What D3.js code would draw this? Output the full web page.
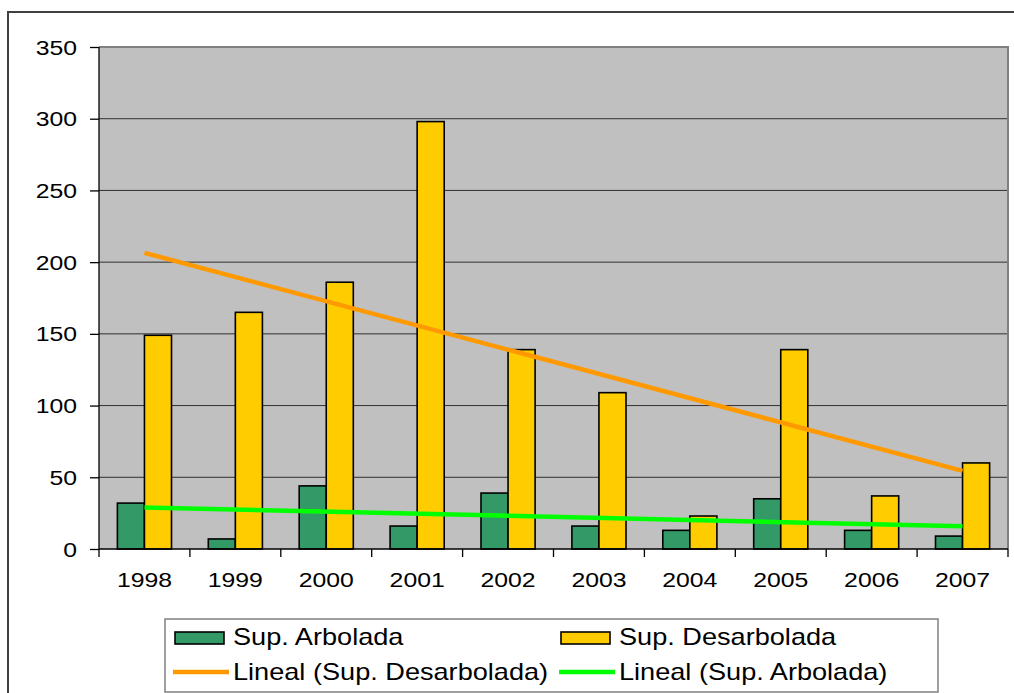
<!DOCTYPE html>
<html>
<head>
<meta charset="utf-8">
<script src="https://cdn.jsdelivr.net/npm/d3@7"></script>
<style>
	body { margin: 0; background: #ffffff; }
	svg { display: block; font-family: 'Liberation Sans', Arial, sans-serif; }
</style>
</head>
<body>
<div id="chart"></div>
<script>
var years = [ '1998', '1999', '2000', '2001', '2002', '2003', '2004', '2005', '2006', '2007' ];
var arbolada = [ 32, 7, 44, 16, 39, 16, 13, 35, 13, 9 ];
var desarbolada = [ 149, 165, 186, 298, 139, 109, 23, 139, 37, 60 ];
var yTicks = [ 0, 50, 100, 150, 200, 250, 300, 350 ];
var seriesNames = [ 'Sup. Arbolada', 'Sup. Desarbolada' ];
var trendNames = [ 'Lineal (Sup. Desarbolada)', 'Lineal (Sup. Arbolada)' ];

var colors = {
	arbolada: '#339966',
	desarbolada: '#ffcc00',
	trendDes: '#ff9900',
	trendArb: '#00ff00',
	plot: '#c0c0c0'
};

var sizes = { width: 1014, height: 693 };
var plot = { left: 99, right: 1008, top: 47, bottom: 549 };
var stretch = 1.18; // the text in the picture is drawn wider than normal

var svg = d3.select( '#chart' ).append( 'svg' )
	.attr( 'width', sizes.width )
	.attr( 'height', sizes.height );

// outer chart frame
svg.append( 'rect' )
	.attr( 'x', 8 ).attr( 'y', 12 )
	.attr( 'width', 1020 ).attr( 'height', 700 )
	.style( 'fill', '#ffffff' )
	.style( 'stroke', '#404040' )
	.style( 'stroke-width', 2 );

var scales = {};

scales.x = d3.scaleBand()
	.domain( years )
	.range( [ plot.left, plot.right ] );

scales.inner = d3.scaleBand()
	.domain( [ 'arb', 'des' ] )
	.range( [ 0, scales.x.bandwidth() ] )
	.paddingOuter( 0.68 );

scales.y = d3.scaleLinear()
	.domain( [ 0, 350 ] )
	.range( [ plot.bottom, plot.top ] );

// plot area
svg.append( 'rect' )
	.attr( 'x', plot.left ).attr( 'y', plot.top )
	.attr( 'width', plot.right - plot.left )
	.attr( 'height', plot.bottom - plot.top )
	.style( 'fill', colors.plot );

svg.append( 'g' )
	.selectAll( 'line' )
	.data( yTicks.filter( function ( d ) { return d > 0 && d < 350; } ) )
	.enter()
	.append( 'line' )
	.attr( 'x1', plot.left ).attr( 'x2', plot.right )
	.attr( 'y1', function ( d ) { return scales.y( d ); } )
	.attr( 'y2', function ( d ) { return scales.y( d ); } )
	.style( 'stroke', '#303030' )
	.style( 'stroke-width', 1 );

// plot area border (top and right grey)
svg.append( 'path' )
	.attr( 'd', 'M' + plot.left + ',' + scales.y( 350 ) + 'H' + plot.right + 'V' + plot.bottom )
	.style( 'fill', 'none' )
	.style( 'stroke', '#808080' )
	.style( 'stroke-width', 2 );

// bars
var barGroups = svg.append( 'g' )
	.selectAll( 'g' )
	.data( years )
	.enter()
	.append( 'g' )
	.attr( 'transform', function ( d ) { return 'translate(' + scales.x( d ) + ',0)'; } );

barGroups.append( 'rect' )
	.attr( 'x', scales.inner( 'arb' ) )
	.attr( 'width', scales.inner.bandwidth() )
	.attr( 'y', function ( d, i ) { return scales.y( arbolada[ i ] ); } )
	.attr( 'height', function ( d, i ) { return scales.y( 0 ) - scales.y( arbolada[ i ] ); } )
	.style( 'fill', colors.arbolada )
	.style( 'stroke', '#000000' )
	.style( 'stroke-width', 1.6 );

barGroups.append( 'rect' )
	.attr( 'x', scales.inner( 'des' ) )
	.attr( 'width', scales.inner.bandwidth() )
	.attr( 'y', function ( d, i ) { return scales.y( desarbolada[ i ] ); } )
	.attr( 'height', function ( d, i ) { return scales.y( 0 ) - scales.y( desarbolada[ i ] ); } )
	.style( 'fill', colors.desarbolada )
	.style( 'stroke', '#000000' )
	.style( 'stroke-width', 1.6 );

// linear trend lines (least squares, like the spreadsheet does)
var trend = function ( values ) {
	var xs = values.map( function ( d, i ) { return i; } );
	var mx = d3.mean( xs ), my = d3.mean( values );
	var sxy = d3.sum( xs, function ( x, i ) { return ( x - mx ) * ( values[ i ] - my ); } );
	var sxx = d3.sum( xs, function ( x ) { return ( x - mx ) * ( x - mx ); } );
	var slope = sxy / sxx;
	return function ( x ) { return my + slope * ( x - mx ); };
};

var center = function ( i ) { return scales.x( years[ i ] ) + scales.x.bandwidth() / 2; };
var last = years.length - 1;

[ [ desarbolada, colors.trendDes ], [ arbolada, colors.trendArb ] ].forEach( function ( t ) {
	var f = trend( t[ 0 ] );
	svg.append( 'line' )
		.attr( 'x1', center( 0 ) )
		.attr( 'x2', center( last ) )
		.attr( 'y1', scales.y( f( 0 ) ) )
		.attr( 'y2', scales.y( f( last ) ) )
		.style( 'stroke', t[ 1 ] )
		.style( 'stroke-width', 4.5 );
} );

// axes
var axes = {};
axes.y = d3.axisLeft( scales.y ).tickValues( yTicks ).tickSize( 9 ).tickFormat( '' );
axes.x = d3.axisBottom( scales.x ).tickSize( 0 ).tickFormat( '' );

svg.append( 'g' )
	.attr( 'transform', 'translate(' + plot.left + ',0)' )
	.call( axes.y )
	.call( function ( g ) {
		g.selectAll( 'line, path' ).style( 'stroke', '#000000' ).style( 'stroke-width', 1.3 );
		g.select( '.domain' ).attr( 'd', 'M0,' + plot.top + 'V' + plot.bottom );
	} );

svg.append( 'g' )
	.attr( 'transform', 'translate(0,' + plot.bottom + ')' )
	.call( axes.x )
	.call( function ( g ) {
		g.select( '.domain' ).attr( 'd', 'M' + plot.left + ',0H' + plot.right ).style( 'stroke', '#000000' ).style( 'stroke-width', 1.3 );
	} );

// x ticks at category boundaries
svg.append( 'g' )
	.selectAll( 'line' )
	.data( years.concat( [ 'end' ] ) )
	.enter()
	.append( 'line' )
	.attr( 'x1', function ( d, i ) { return plot.left + i * scales.x.step(); } )
	.attr( 'x2', function ( d, i ) { return plot.left + i * scales.x.step(); } )
	.attr( 'y1', plot.bottom )
	.attr( 'y2', plot.bottom + 8 )
	.style( 'stroke', '#000000' )
	.style( 'stroke-width', 1.3 );

var label = function ( x, y, text, anchor, size ) {
	return svg.append( 'text' )
		.attr( 'transform', 'translate(' + x + ',' + y + ') scale(' + stretch + ',1)' )
		.attr( 'text-anchor', anchor )
		.style( 'font-size', ( size || 21 ) + 'px' )
		.style( 'fill', '#000000' )
		.text( text );
};

yTicks.forEach( function ( d ) {
	label( 77, scales.y( d ) + 7.5, String( d ), 'end' );
} );

years.forEach( function ( d ) {
	label( scales.x( d ) + scales.x.bandwidth() / 2, 587, d, 'middle' );
} );

// legend
svg.append( 'rect' )
	.attr( 'x', 165 ).attr( 'y', 619 )
	.attr( 'width', 773 ).attr( 'height', 73 )
	.style( 'fill', '#ffffff' )
	.style( 'stroke', '#808080' )
	.style( 'stroke-width', 1.5 );

var legendCols = [ 175, 561 ];

[ colors.arbolada, colors.desarbolada ].forEach( function ( c, i ) {
	svg.append( 'rect' )
		.attr( 'x', legendCols[ i ] ).attr( 'y', 632 )
		.attr( 'width', 49 ).attr( 'height', 12 )
		.style( 'fill', c )
		.style( 'stroke', '#000000' )
		.style( 'stroke-width', 1.6 );
	label( legendCols[ i ] + 58, 645, seriesNames[ i ], 'start', 23 );
} );

[ colors.trendDes, colors.trendArb ].forEach( function ( c, i ) {
	svg.append( 'line' )
		.attr( 'x1', legendCols[ i ] - 2 ).attr( 'x2', legendCols[ i ] + 54 )
		.attr( 'y1', 672 ).attr( 'y2', 672 )
		.style( 'stroke', c )
		.style( 'stroke-width', 4.5 );
	label( legendCols[ i ] + 58, 680, trendNames[ i ], 'start', 23 );
} );
</script>
</body>
</html>
